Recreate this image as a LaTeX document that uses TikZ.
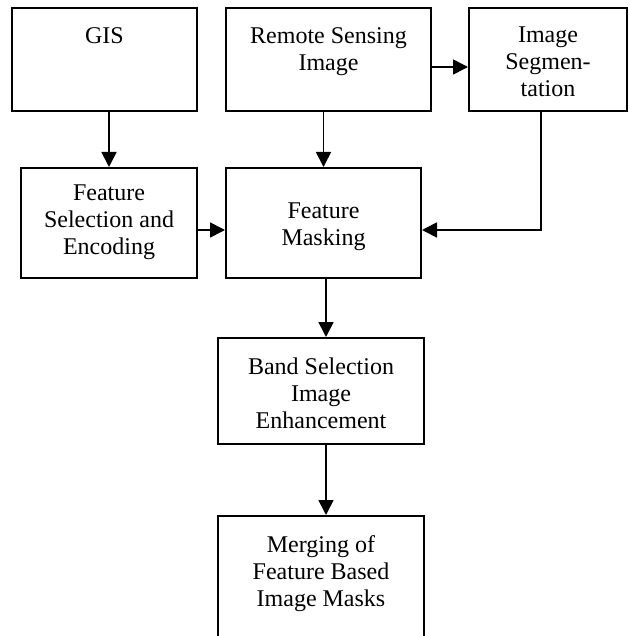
\documentclass[tikz,border=0pt]{standalone}
\usepackage{fontspec}
\setmainfont{Liberation Serif}
\usetikzlibrary{arrows.meta}
\begin{document}
\begin{tikzpicture}[x=1pt,y=-1pt,
  box/.style={draw,line width=2pt,rectangle,inner sep=0pt},
  txt/.style={anchor=north,align=center,inner sep=0pt,font=\fontsize{24}{27}\selectfont},
  arr/.style={line width=1.7pt,-{Triangle[length=15pt,width=15pt]}}]
\useasboundingbox (0,0) rectangle (629,636);
\clip (0,0) rectangle (629,636);
% boxes
\node[box,minimum width=185pt,minimum height=103pt] (gis) at (104.5,59.5) {};
\node[box,minimum width=205pt,minimum height=103pt] (rs) at (328.5,59.5) {};
\node[box,minimum width=158pt,minimum height=103pt] (is) at (548,59.5) {};
\node[box,minimum width=176pt,minimum height=110pt] (fs) at (109,223) {};
\node[box,minimum width=195pt,minimum height=110pt] (fm) at (323.5,223) {};
\node[box,minimum width=206pt,minimum height=106pt] (bs) at (321,391) {};
\node[box,minimum width=206pt,minimum height=144pt] (mg) at (321,588) {};
% texts
\node[txt] (gist) at (104.5,27) {GIS};
\node[txt] (rst) at (328.5,27) {Remote Sensing\\Image};
\node[txt] (ist) at (548,27) {Image\\Segmen-\\tation};
\node[txt] (fst) at (109,185) {Feature\\Selection and\\Encoding};
\node[txt] (fmt) at (323.5,203) {Feature\\Masking};
\node[txt] (bst) at (321,358) {Band Selection\\Image\\Enhancement};
\node[txt] (mgt) at (321,535) {Merging of\\Feature Based\\Image Masks};
% connectors
\coordinate (bend) at (541,230);
\coordinate (xa) at (326,0);
\draw[arr] (fs.north |- gis.south) -- (fs.north);
\draw[arr] (fm.north |- rs.south) -- (fm.north);
\draw[arr] (rs.east |- 0,67) -- (is.west |- 0,67);
\draw[arr] (fs.east |- bend) -- (fm.west |- bend);
\draw[arr] (is.south -| bend) -- (bend) -- (fm.east |- bend);
\draw[arr] (xa |- fm.south) -- (xa |- bs.north);
\draw[arr] (xa |- bs.south) -- (xa |- mg.north);
\end{tikzpicture}
\end{document}
